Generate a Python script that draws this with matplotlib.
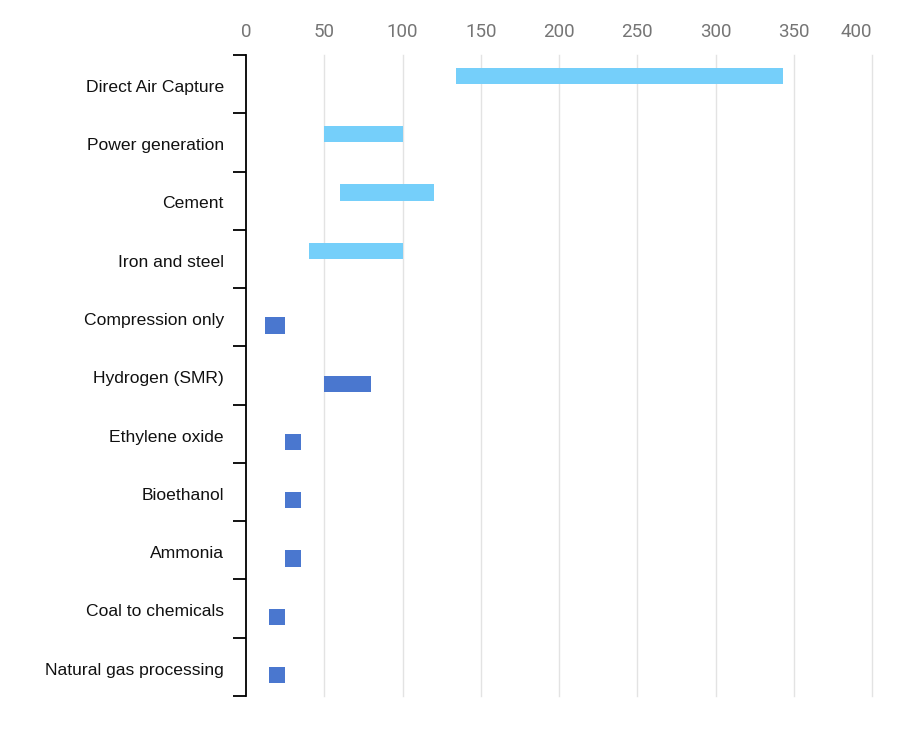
import matplotlib
matplotlib.use("Agg")
import matplotlib.pyplot as plt
import matplotlib.transforms as mtransforms
import numpy as np

categories = ["Direct Air Capture", "Power generation", "Cement", "Iron and steel",
              "Compression only", "Hydrogen (SMR)", "Ethylene oxide", "Bioethanol",
              "Ammonia", "Coal to chemicals", "Natural gas processing"]
# series: 0 = light blue (dilute sources), 1 = dark blue (concentrated sources)
series = [0, 0, 0, 0, 1, 1, 1, 1, 1, 1, 1]
low = [134, 50, 60, 40, 12, 50, 25, 25, 25, 15, 15]
high = [343, 100, 120, 100, 25, 80, 35, 35, 35, 25, 25]
x_ticks = [0, 50, 100, 150, 200, 250, 300, 350, 400]

colors = ["#75CFFA", "#4A77CF"]

fig = plt.figure(figsize=(8.98, 7.30), dpi=100)
ax = fig.add_axes([246/898, 1-696/730, (872-246)/898, (696-55)/730])

n = len(categories)
y = np.arange(n)
bar_h = 0.28
offsets = [-0.14, 0.14]
for i in range(n):
    s = series[i]
    ax.barh(y[i] + offsets[s], high[i] - low[i], left=low[i], height=bar_h,
            color=colors[s], zorder=3)

ax.set_xlim(0, 400)
ax.set_ylim(n - 0.5, -0.5)

ax.xaxis.tick_top()
ax.set_xticks(x_ticks)
ax.set_xticklabels([str(v) for v in x_ticks], fontsize=13.5, color="#757575",
                   family=["Roboto", "DejaVu Sans"])
ax.tick_params(axis="x", length=0, pad=10)
last = ax.get_xticklabels()[-1]
last.set_transform(last.get_transform() +
                   mtransforms.ScaledTranslation(-16/100, 0, fig.dpi_scale_trans))
for v in x_ticks[1:]:
    ax.axvline(v, color="#E3E3E3", lw=1, zorder=1, clip_on=False)

ax.set_yticks(y + 0.03)
ax.set_yticklabels(categories, fontsize=12.6, color="#111111",
                   family=["Liberation Sans", "DejaVu Sans"])
ax.set_yticks(np.arange(n + 1) - 0.5, minor=True)
ax.tick_params(axis="y", which="major", length=0, pad=16)
ax.tick_params(axis="y", which="minor", length=9.5, width=1.3, color="black")

for side in ["top", "right", "bottom"]:
    ax.spines[side].set_visible(False)
ax.spines["left"].set_linewidth(1.3)
ax.spines["left"].set_color("black")

fig.savefig("out.png", dpi=100)
